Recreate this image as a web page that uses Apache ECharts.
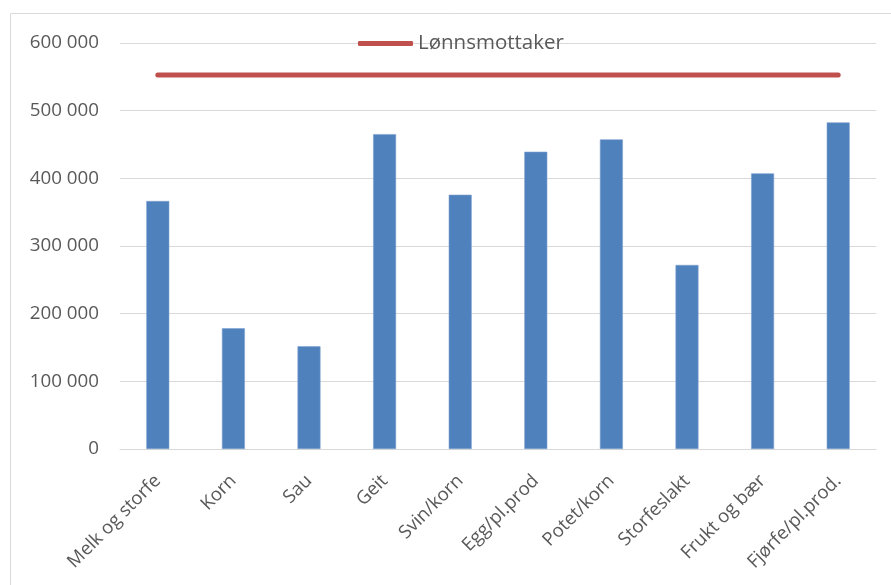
<!DOCTYPE html>
<html>
<head>
<meta charset="utf-8">
<script src="https://cdn.jsdelivr.net/npm/echarts@6/dist/echarts.min.js"></script>
<style>
  html, body { margin: 0; padding: 0; background: #fff; }
  #chart { width: 891px; height: 585px; }
</style>
</head>
<body>
<div id="chart"></div>
<script>
const categories = ["Melk og storfe", "Korn", "Sau", "Geit", "Svin/korn", "Egg/pl.prod", "Potet/korn", "Storfeslakt", "Frukt og bær", "Fjørfe/pl.prod."];
const barValues = [366500, 178400, 151800, 465400, 375800, 439300, 457600, 272000, 407400, 482700];
const lineName = "Lønnsmottaker";
const lineValues = [552600, 552600, 552600, 552600, 552600, 552600, 552600, 552600, 552600, 552600];

const fmt = v => String(v).replace(/\B(?=(\d{3})+(?!\d))/g, " ");
const font = "'Open Sans', 'Liberation Sans', sans-serif";

const chart = echarts.init(document.getElementById("chart"));
chart.setOption({
  animation: false,
  textStyle: { fontFamily: font },
  graphic: [{
    type: "rect",
    shape: { x: 10.5, y: 13.5, width: 900, height: 600 },
    style: { fill: "none", stroke: "#d9d9d9", lineWidth: 1 },
    silent: true
  }],
  legend: {
    data: [{ name: lineName, icon: "roundRect" }],
    left: 353,
    top: 28,
    itemWidth: 55,
    itemHeight: 5,
    itemStyle: { color: "#c0504d" },
    textStyle: { fontFamily: font, fontSize: 20.5, color: "#595959" }
  },
  grid: { left: 120, right: 15, top: 43, bottom: 136 },
  xAxis: {
    type: "category",
    data: categories,
    axisLine: { lineStyle: { color: "#d9d9d9", width: 1 } },
    axisTick: { show: false },
    axisLabel: {
      rotate: 45,
      interval: 0,
      margin: 29,
      fontFamily: font,
      fontSize: 18.5,
      color: "#595959"
    }
  },
  yAxis: {
    type: "value",
    min: 0,
    max: 600000,
    interval: 100000,
    axisLine: { show: false },
    axisTick: { show: false },
    splitLine: { lineStyle: { color: "#d9d9d9", width: 1 } },
    axisLabel: {
      margin: 21,
      fontFamily: font,
      fontSize: 18.8,
      color: "#595959",
      formatter: fmt
    }
  },
  series: [
    {
      type: "bar",
      data: barValues,
      barWidth: 23,
      itemStyle: { color: "#4f81bd", borderColor: "#7fa3d0", borderWidth: 0.6 }
    },
    {
      type: "line",
      name: lineName,
      data: lineValues,
      symbol: "none",
      lineStyle: { color: "#c0504d", width: 5, cap: "round" },
      itemStyle: { color: "#c0504d" }
    }
  ]
});
</script>
</body>
</html>
